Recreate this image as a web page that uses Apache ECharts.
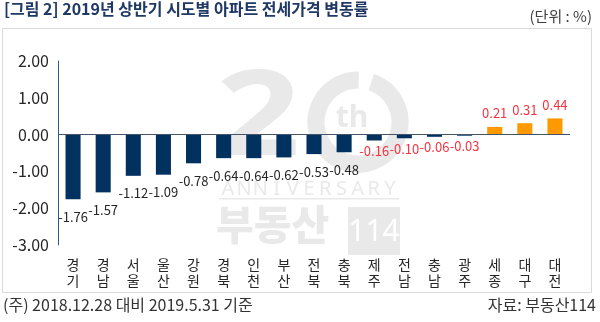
<!DOCTYPE html>
<html>
<head>
<meta charset="utf-8">
<script src="https://cdn.jsdelivr.net/npm/echarts@6/dist/echarts.min.js"></script>
<style>
  html, body { margin: 0; padding: 0; background: #fff; }
  #chart { width: 600px; height: 322px; }
</style>
</head>
<body>
<div id="chart"></div>
<script>
// 시도별 아파트 전세가격 변동률 (2018.12.28 대비 2019.5.31, 단위 %)
const regions = ['경기', '경남', '서울', '울산', '강원', '경북', '인천', '부산', '전북',
                 '충북', '제주', '전남', '충남', '광주', '세종', '대구', '대전'];
const changeRates = [-1.76, -1.57, -1.12, -1.09, -0.78, -0.64, -0.64, -0.62, -0.53,
                     -0.48, -0.16, -0.10, -0.06, -0.03, 0.21, 0.31, 0.44];
const yTicks = [-3, -2, -1, 0, 1, 2];

const NAVY = '#00315F';
const ORANGE = '#FF9900';
const RED = '#F5333F';
const DARK = '#262626';
const MARK = '#e9e9e9';

const font = '"Noto Sans CJK KR", "Noto Sans", sans-serif';

const chart = echarts.init(document.getElementById('chart'), null, { renderer: 'canvas' });

const barData = changeRates.map(v => {
  const pos = v > 0;
  const redLabel = v > -0.2;
  return {
    value: v,
    itemStyle: { color: pos ? ORANGE : NAVY },
    label: {
      show: true,
      position: pos ? 'top' : 'bottom',
      distance: pos ? 7 : (redLabel ? 4 : 11),
      color: redLabel ? RED : DARK,
      formatter: p => p.value.toFixed(2)
    }
  };
});

// letters of the emblem's "ANNIVERSARY" line, spread evenly
const anniversary = 'ANNIVERSARY'.split('').map((ch, i) => ({
  type: 'text', silent: true, z: 0, x: 228 + i * 16.2, y: 189,
  style: { text: ch, font: '20px "Noto Sans", sans-serif', fill: MARK,
           align: 'center', verticalAlign: 'middle' }
}));

chart.setOption({
  backgroundColor: '#fff',
  animation: false,
  textStyle: { fontFamily: font },
  graphic: [
    // chart frame
    { type: 'rect', silent: true, z: 0,
      shape: { x: 2.5, y: 28.5, width: 589, height: 264 },
      style: { fill: 'none', stroke: '#d9d9d9', lineWidth: 1 } },
    // 20th anniversary emblem in the background
    { type: 'text', silent: true, z: 0, x: 216, y: 62, scaleX: 1.25,
      style: { text: '2', font: 'bold 118px "Noto Sans", sans-serif', fill: MARK } },
    { type: 'arc', silent: true, z: 0,
      shape: { cx: 358, cy: 122, r: 42, startAngle: -1.25, endAngle: 4.73 },
      style: { stroke: MARK, lineWidth: 17, fill: 'none' } },
    { type: 'text', silent: true, z: 0, x: 352, y: 118,
      style: { text: 'th', font: 'bold 30px "Noto Sans", sans-serif', fill: MARK,
               align: 'center', verticalAlign: 'middle' } },
    ...anniversary,
    { type: 'rect', silent: true, z: 0,
      shape: { x: 219, y: 198, width: 180, height: 1.5 },
      style: { fill: MARK } },
    { type: 'text', silent: true, z: 0, x: 216, y: 204,
      style: { text: '부동산', font: '900 41px "Noto Sans CJK KR", sans-serif', fill: MARK } },
    { type: 'rect', silent: true, z: 0,
      shape: { x: 348, y: 207, width: 52, height: 48 },
      style: { fill: MARK } },
    { type: 'text', silent: true, z: 0, x: 374, y: 232,
      style: { text: '114', font: '30px "Noto Sans", sans-serif', fill: '#fff',
               align: 'center', verticalAlign: 'middle' } },
    // titles and notes
    { type: 'text', left: 4, top: 1,
      style: { text: '[그림 2] 2019년 상반기 시도별 아파트 전세가격 변동률',
               font: 'bold 16px ' + font, fill: '#1F3864' } },
    { type: 'text', right: 8, top: 9,
      style: { text: '(단위 : %)', font: '15px ' + font, fill: '#404040' } },
    { type: 'text', left: 3, top: 297,
      style: { text: '(주) 2018.12.28 대비 2019.5.31 기준', font: '16px ' + font, fill: '#333' } },
    { type: 'text', right: 4, top: 297,
      style: { text: '자료: 부동산114', font: '16px ' + font, fill: '#333' } }
  ],
  grid: { left: 58, right: 30, top: 61, bottom: 77, containLabel: false },
  xAxis: {
    type: 'category',
    data: regions,
    axisLine: { show: false },
    axisTick: { show: false },
    axisLabel: {
      interval: 0,
      margin: 12,
      lineHeight: 16,
      fontSize: 14,
      color: DARK,
      fontFamily: font,
      formatter: s => s.split('').join('\n')
    }
  },
  yAxis: {
    type: 'value',
    min: yTicks[0],
    max: yTicks[yTicks.length - 1],
    interval: 1,
    axisLine: { show: true, lineStyle: { color: '#2E5C8A', width: 1 } },
    axisTick: { show: false },
    splitLine: { show: false },
    axisLabel: {
      margin: 9,
      fontSize: 16,
      color: DARK,
      fontFamily: font,
      formatter: v => v.toFixed(2)
    }
  },
  series: [{
    type: 'bar',
    data: barData,
    barWidth: '50%',
    label: { fontSize: 13, fontFamily: font },
    markLine: {
      silent: true,
      symbol: 'none',
      label: { show: false },
      lineStyle: { color: '#44546A', width: 1, type: 'solid' },
      data: [{ yAxis: 0 }]
    }
  }]
});
</script>
</body>
</html>
